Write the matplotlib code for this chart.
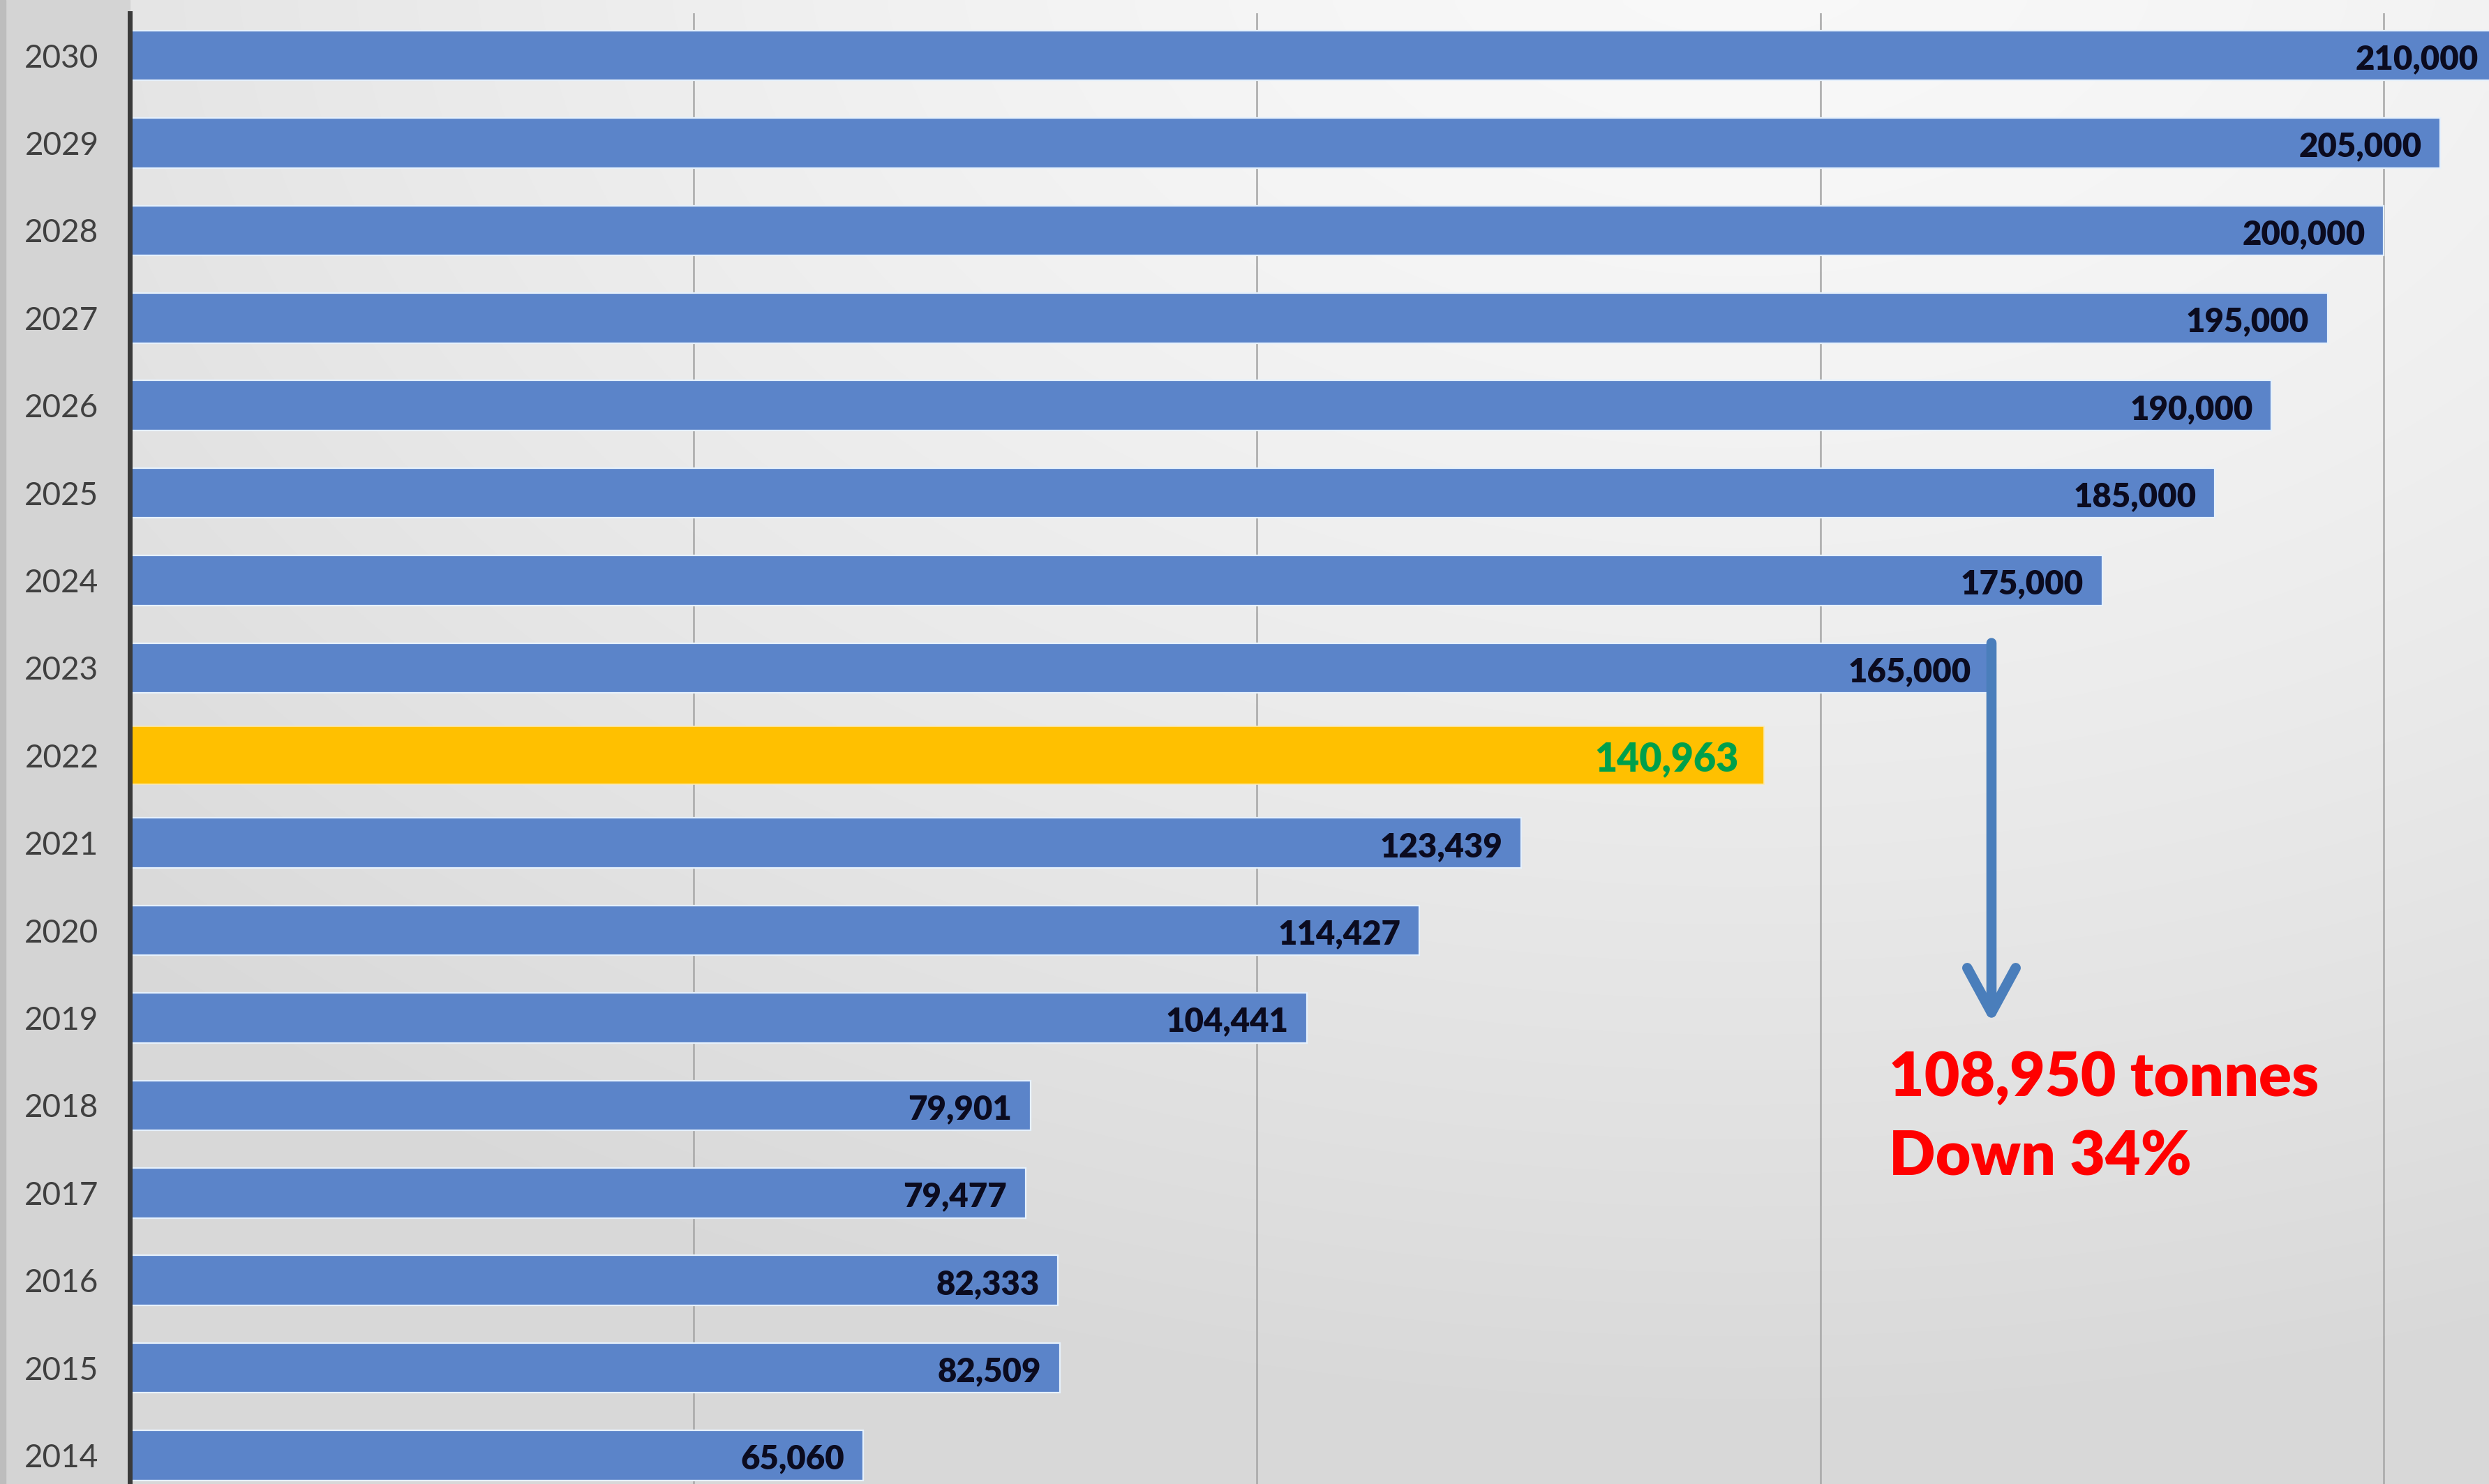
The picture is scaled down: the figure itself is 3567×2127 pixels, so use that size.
import numpy as np
import matplotlib
matplotlib.use("Agg")
import matplotlib.pyplot as plt
from matplotlib.patches import Rectangle

# ---------------- data ----------------
years = [2014, 2015, 2016, 2017, 2018, 2019, 2020, 2021, 2022,
         2023, 2024, 2025, 2026, 2027, 2028, 2029, 2030]
values = [65060, 82509, 82333, 79477, 79901, 104441, 114427, 123439, 140963,
          165000, 175000, 185000, 190000, 195000, 200000, 205000, 210000]
highlight_year = 2022
highlight_extent = 145000      # yellow highlight box reaches ~145,000 in the picture
arrow_from_year = 2023
arrow_to_year = 2019
note_lines = ["108,950 tonnes", "Down 34%"]
grid_values = [50000, 100000, 150000, 200000]

# ---------------- styling ----------------
W, H, DPI = 3567, 2127, 100
BLUE = "#5B84C9"
YELLOW = "#FFC000"
GREEN = "#00A04B"
ARROW = "#4A7EBB"
RED = "#FF0000"
FONT = "Lato"

fig = plt.figure(figsize=(W / DPI, H / DPI), dpi=DPI)

# background gradient
bg = fig.add_axes([0, 0, 1, 1], zorder=-10)
bg.set_axis_off()
nx, ny = 360, 220
u = np.linspace(0, 1, nx)[None, :]
t = np.linspace(0, 1, ny)[:, None]          # 0 = top
d = np.sqrt(((u - 0.7) / 0.9) ** 2 + ((t + 0.05) / 1.0) ** 2)
d = np.clip(d, 0, 1) ** 1.5
light, dark = 0.975, 0.85
val = light - (light - dark) * d
img = np.dstack([val, val, val])
bg.imshow(img, extent=[0, 1, 0, 1], aspect="auto", interpolation="bilinear", origin="upper")
bg.set_xlim(0, 1); bg.set_ylim(0, 1)
left_px = 186
bg.add_patch(Rectangle((0, 0), left_px / W, 1, color="#D4D4D4", zorder=2))
bg.add_patch(Rectangle((0, 0), 8 / W, 1, color="#BDBDBD", zorder=3))

# main axes
ax_left = left_px / W
ax_top = 1 - 19 / H
ax = fig.add_axes([ax_left, 0, 1 - ax_left, ax_top])
ax.set_facecolor("none")

xmax = (W - left_px) / 807.6 * 50000
ax.set_xlim(0, xmax)
ax.set_ylim(-0.327, 16.483)

idx = np.arange(len(years))
hi = years.index(highlight_year)

for g in grid_values:
    ax.axvline(g, color="#A8A8A8", lw=1.8, zorder=1)

ax.barh(idx, values, height=0.57, color=BLUE, edgecolor="#E6F1FC",
        linewidth=1.6, zorder=2)
# yellow highlight box over the highlighted year
ax.barh([hi], [highlight_extent], height=0.66, color=YELLOW, edgecolor="#FBE9B0",
        linewidth=1.2, zorder=3)

for i, (y, v) in enumerate(zip(years, values)):
    if y == highlight_year:
        ax.annotate(f"{v:,}", xy=(highlight_extent, i), xytext=(-26, -4),
                    textcoords="offset points", ha="right", va="center",
                    fontsize=40, fontweight="heavy", color=GREEN, family=FONT, zorder=5)
    else:
        ax.annotate(f"{v:,}", xy=(v, i), xytext=(-19, -4), textcoords="offset points",
                    ha="right", va="center", fontsize=34, fontweight="heavy",
                    color="#0B0B1F", family=FONT, zorder=5, annotation_clip=False)

# arrow
i_from = years.index(arrow_from_year)
i_to = years.index(arrow_to_year)
x_arrow = values[i_from] + 180
ax.annotate("", xy=(x_arrow, i_to - 0.06), xytext=(x_arrow, i_from + 0.285),
            arrowprops=dict(arrowstyle="->,head_length=4.6,head_width=2.5",
                            color=ARROW, lw=10.5, shrinkA=0, shrinkB=0,
                            capstyle="round", joinstyle="round"),
            zorder=6)

# annotation text
x_note = 156100
ax.text(x_note, years.index(2018) + 0.11, note_lines[0], ha="left", va="baseline",
        fontsize=63, fontweight="heavy", color=RED, family=FONT, zorder=6)
ax.text(x_note, years.index(2017) + 0.2, note_lines[1], ha="left", va="baseline",
        fontsize=63, fontweight="heavy", color=RED, family=FONT, zorder=6)

# axes styling
ax.set_yticks(idx)
ax.set_yticklabels([str(y) for y in years], fontsize=33, color="#404040", family=FONT)
ax.tick_params(axis="y", length=0, pad=32)
ax.set_xticks([])
for s in ["top", "right", "bottom"]:
    ax.spines[s].set_visible(False)
ax.spines["left"].set_color("#3A3A3A")
ax.spines["left"].set_linewidth(5)
ax.spines["left"].set_zorder(7)

fig.savefig("out.png", dpi=DPI)
